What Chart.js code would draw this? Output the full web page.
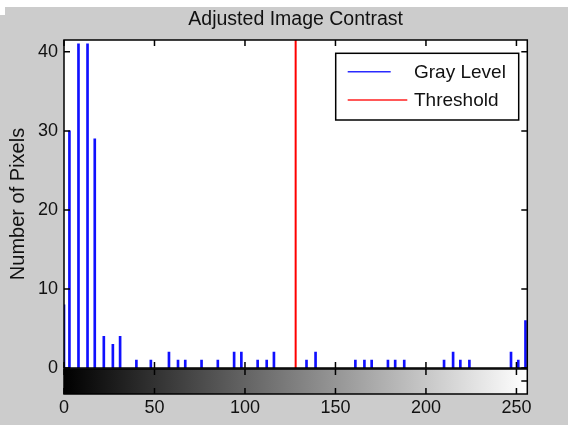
<!DOCTYPE html>
<html><head><meta charset="utf-8">
<script src="https://cdn.jsdelivr.net/npm/chart.js@4/dist/chart.umd.min.js"></script>
<style>html,body{margin:0;padding:0;background:#cccccc;overflow:hidden}#wrap{width:568px;height:425px}</style>
</head><body><div id="wrap"><canvas id="c" width="568" height="425"></canvas></div>
<script>
const chartTitle = 'Adjusted Image Contrast';
const yTitle = 'Number of Pixels';
const seriesNames = ['Gray Level', 'Threshold'];
const grayLevels = [0,3,8,13,17,22,27,31,40,48,58,63,67,76,85,94,98,107,112,116,134,139,161,166,170,179,183,188,210,215,219,224,247,251,255];
const pixelCounts = [8,30,41,41,29,4,3,4,1,1,2,1,1,1,1,2,2,1,1,2,1,2,1,1,1,1,1,1,1,2,1,1,2,1,6];
const thresholdLevel = [128];
const xTicks = [0,50,100,150,200,250];
const yTicks = [0,10,20,30,40];
const xRange = [0, 256];
const yRange = [0, 41.5];

const FONT = '"Liberation Sans", Arial, Helvetica, sans-serif';
const INK = '#111111';

const decor = {
  id: 'decor',
  beforeDraw(chart) {
    const {ctx, chartArea: a, width, height} = chart;
    ctx.save();
    ctx.fillStyle = '#cccccc';
    ctx.fillRect(0, 0, width, height);
    ctx.fillStyle = '#ffffff';
    ctx.fillRect(0, 0, width, 7);
    ctx.fillRect(0, 0, 5, 15);
    ctx.fillRect(a.left, a.top, a.right - a.left, a.bottom - a.top);
    ctx.restore();
  },
  afterDatasetsDraw(chart) {
    const {ctx, chartArea: a, scales} = chart;
    const xs = scales.x, ys = scales.y;
    ctx.save();
    ctx.strokeStyle = '#000';
    ctx.lineWidth = 1.5;
    ctx.strokeRect(a.left, a.top, a.right - a.left, a.bottom - a.top);
    const TL = 6;
    ctx.beginPath();
    xs.ticks.forEach(t => {
      const px = xs.getPixelForValue(t.value);
      ctx.moveTo(px, a.top); ctx.lineTo(px, a.top + TL);
      ctx.moveTo(px, a.bottom); ctx.lineTo(px, a.bottom - TL);
    });
    ys.ticks.forEach(t => {
      const py = ys.getPixelForValue(t.value);
      ctx.moveTo(a.left, py); ctx.lineTo(a.left + TL, py);
      ctx.moveTo(a.right, py); ctx.lineTo(a.right - TL, py);
    });
    ctx.stroke();

    // legend
    const ds = chart.data.datasets;
    const bx = a.right - 191.6, by = a.top + 13.3, bw = 183, bh = 66.7;
    ctx.fillStyle = '#ffffff';
    ctx.fillRect(bx, by, bw, bh);
    ctx.lineWidth = 1.5;
    ctx.strokeStyle = '#000';
    ctx.strokeRect(bx, by, bw, bh);
    const lens = [43, 59.6];
    const rows = [18.4, 46.7];
    ctx.font = '19px ' + FONT;
    ctx.textBaseline = 'middle';
    ctx.textAlign = 'left';
    ds.forEach((d, i) => {
      ctx.strokeStyle = d.legendColor;
      ctx.lineWidth = 1.6;
      ctx.beginPath();
      ctx.moveTo(bx + 12, by + rows[i]);
      ctx.lineTo(bx + 12 + lens[i], by + rows[i]);
      ctx.stroke();
      ctx.fillStyle = INK;
      ctx.fillText(d.label, bx + 78.3, by + rows[i] + 1);
    });
    ctx.restore();
  },
  afterDraw(chart) {
    const {ctx, chartArea: a, scales} = chart;
    const xs = scales.x;
    const x0 = xs.getPixelForValue(xRange[0]), x1 = xs.getPixelForValue(xRange[1]);
    const top = a.bottom + 1, h = 25;
    ctx.save();
    const g = ctx.createLinearGradient(x0, 0, x1, 0);
    g.addColorStop(0, '#000000');
    g.addColorStop(1, '#ffffff');
    ctx.fillStyle = g;
    ctx.fillRect(x0, top, x1 - x0, h);
    ctx.strokeStyle = '#000';
    ctx.lineWidth = 1.5;
    ctx.strokeRect(x0, top, x1 - x0, h);
    ctx.beginPath();
    xs.ticks.forEach(t => {
      const px = xs.getPixelForValue(t.value);
      ctx.moveTo(px, top); ctx.lineTo(px, top + 6);
      ctx.moveTo(px, top + h); ctx.lineTo(px, top + h - 6);
    });
    ctx.moveTo(x1, top + 12); ctx.lineTo(x1 - 6, top + 12);
    ctx.stroke();
    ctx.restore();
  }
};

new Chart(document.getElementById('c'), {
  type: 'bar',
  data: {
    datasets: [
      {
        type: 'bar',
        label: seriesNames[0],
        data: grayLevels.map((g, i) => ({x: g, y: pixelCounts[i]})),
        backgroundColor: '#1010ff',
        legendColor: '#2a2aff',
        barThickness: 2,
        grouped: false,
        order: 2
      },
      {
        type: 'line',
        label: seriesNames[1],
        data: [{x: thresholdLevel[0], y: yRange[0]}, {x: thresholdLevel[0], y: yRange[1]}],
        borderColor: '#ff0000',
        legendColor: '#ff2020',
        borderWidth: 2,
        pointRadius: 0,
        order: 1
      }
    ]
  },
  options: {
    responsive: false,
    animation: false,
    devicePixelRatio: 1,
    layout: {padding: {left: 0, right: 40.7, top: 0, bottom: 0}},
    plugins: {
      legend: {display: false},
      tooltip: {enabled: false},
      title: {
        display: true, text: chartTitle, color: INK, fullSize: false,
        font: {family: FONT, size: 19.5, weight: 'normal'},
        padding: {top: 8, bottom: 8.6}
      }
    },
    scales: {
      x: {
        type: 'linear', min: xRange[0], max: xRange[1], offset: false,
        grid: {display: false, drawTicks: false, offset: false},
        border: {display: false},
        afterBuildTicks: s => { s.ticks = xTicks.map(v => ({value: v})); },
        afterFit: s => { s.height = 57; },
        ticks: {padding: 29, color: INK, font: {family: FONT, size: 18}, maxRotation: 0, autoSkip: false}
      },
      y: {
        type: 'linear', min: yRange[0], max: yRange[1],
        grid: {display: false, drawTicks: false},
        border: {display: false},
        afterBuildTicks: s => { s.ticks = yTicks.map(v => ({value: v})); },
        afterFit: s => { s.width = 64; },
        ticks: {padding: 6, color: INK, font: {family: FONT, size: 18}, autoSkip: false},
        title: {display: true, text: yTitle, color: INK, font: {family: FONT, size: 20}, padding: {top: 6, bottom: 0}}
      }
    }
  },
  plugins: [decor]
});
</script>
</body></html>
